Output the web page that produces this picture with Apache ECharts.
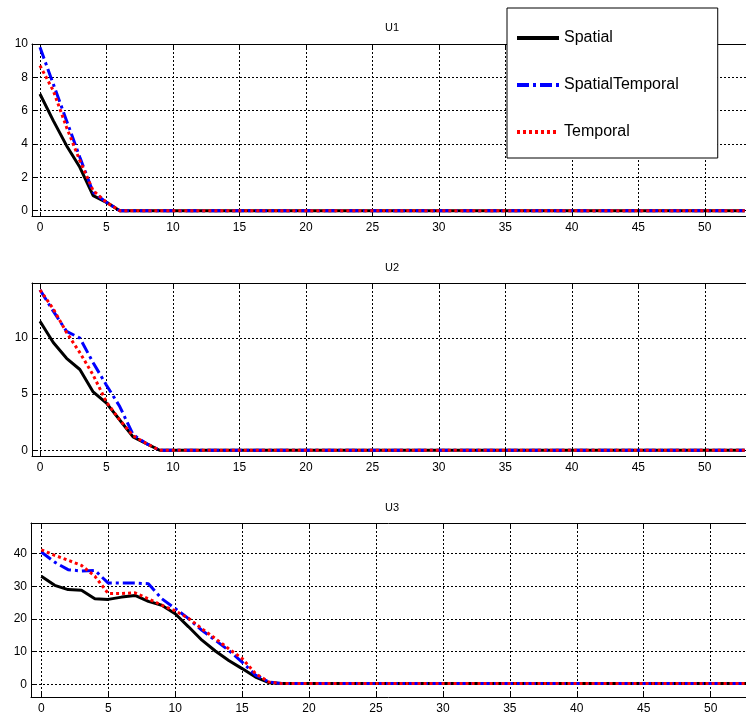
<!DOCTYPE html>
<html>
<head>
<meta charset="utf-8">
<script src="https://cdn.jsdelivr.net/npm/echarts@6/dist/echarts.min.js"></script>
<style>html,body{margin:0;padding:0;background:#fff}#c{width:746px;height:715px}</style>
</head>
<body>
<div id="c"></div>
<script>
const seriesNames = ['Spatial', 'SpatialTemporal', 'Temporal'];
const panelTitles = ['U1', 'U2', 'U3'];

const u1Spatial = [7,5.4,3.9,2.6,0.9,0.5,0,
  0,0,0,0,0,0,0,0,0,0, 0,0,0,0,0,0,0,0,0,0, 0,0,0,0,0,0,0,0,0,0, 0,0,0,0,0,0,0,0,0,0, 0,0,0,0,0,0,0];
const u1SpatialTemporal = [9.8,7.6,5.4,3.2,1.1,0.5,0,
  0,0,0,0,0,0,0,0,0,0, 0,0,0,0,0,0,0,0,0,0, 0,0,0,0,0,0,0,0,0,0, 0,0,0,0,0,0,0,0,0,0, 0,0,0,0,0,0,0];
const u1Temporal = [8.7,7.2,5.0,3.0,1.2,0.5,0,
  0,0,0,0,0,0,0,0,0,0, 0,0,0,0,0,0,0,0,0,0, 0,0,0,0,0,0,0,0,0,0, 0,0,0,0,0,0,0,0,0,0, 0,0,0,0,0,0,0];

const u2Spatial = [11.5,9.6,8.2,7.2,5.2,4.2,2.7,1.2,0.6,0,
  0,0,0,0,0,0,0,0,0,0, 0,0,0,0,0,0,0,0,0,0, 0,0,0,0,0,0,0,0,0,0, 0,0,0,0,0,0,0,0,0,0, 0,0,0,0];
const u2SpatialTemporal = [14.3,12.4,10.6,10.0,7.8,5.8,3.9,1.4,0.6,0,
  0,0,0,0,0,0,0,0,0,0, 0,0,0,0,0,0,0,0,0,0, 0,0,0,0,0,0,0,0,0,0, 0,0,0,0,0,0,0,0,0,0, 0,0,0,0];
const u2Temporal = [14.3,12.6,10.5,8.7,6.7,4.3,2.7,1.3,0.6,0,
  0,0,0,0,0,0,0,0,0,0, 0,0,0,0,0,0,0,0,0,0, 0,0,0,0,0,0,0,0,0,0, 0,0,0,0,0,0,0,0,0,0, 0,0,0,0];

const u3Spatial = [33.1,30.3,29.0,28.8,26.2,26.0,26.7,27.2,25.4,24.2,21.6,17.6,13.5,10.2,7.3,4.8,2.2,0.5,0.2,
  0.2,0.2,0.2,0.2,0.2,0.2,0.2,0.2,0.2,0.2, 0.2,0.2,0.2,0.2,0.2,0.2,0.2,0.2,0.2,0.2, 0.2,0.2,0.2,0.2,0.2,0.2,0.2,0.2,0.2,0.2, 0.2,0.2,0.2,0.2,0.2];
const u3SpatialTemporal = [40.5,37.4,35.1,34.7,34.9,31.0,31.0,31.0,30.8,26.2,23.2,20.1,16.5,13.5,10.4,6.8,2.8,0.7,0.2,
  0.2,0.2,0.2,0.2,0.2,0.2,0.2,0.2,0.2,0.2, 0.2,0.2,0.2,0.2,0.2,0.2,0.2,0.2,0.2,0.2, 0.2,0.2,0.2,0.2,0.2,0.2,0.2,0.2,0.2,0.2, 0.2,0.2,0.2,0.2,0.2];
const u3Temporal = [41.2,39.5,38.0,36.4,33.1,27.8,27.8,28.0,26.2,24.2,22.5,20.2,17.0,14.0,10.9,7.9,3.3,0.7,0.2,
  0.2,0.2,0.2,0.2,0.2,0.2,0.2,0.2,0.2,0.2, 0.2,0.2,0.2,0.2,0.2,0.2,0.2,0.2,0.2,0.2, 0.2,0.2,0.2,0.2,0.2,0.2,0.2,0.2,0.2,0.2, 0.2,0.2,0.2,0.2,0.2];

const panelData = [
  [u1Spatial, u1SpatialTemporal, u1Temporal],
  [u2Spatial, u2SpatialTemporal, u2Temporal],
  [u3Spatial, u3SpatialTemporal, u3Temporal]
];

// tick labels
const xTicks = [0, 5, 10, 15, 20, 25, 30, 35, 40, 45, 50];
const u1YTicks = [0, 2, 4, 6, 8, 10];
const u2YTicks = [0, 5, 10];
const u3YTicks = [0, 10, 20, 30, 40];
const yTicks = [u1YTicks, u2YTicks, u3YTicks];

// layout (pixels) and axis extents
const grids = [
  {left: 32, top: 44, width: 716, height: 172},
  {left: 32, top: 283, width: 716, height: 173},
  {left: 31, top: 523, width: 717, height: 174}
];
const xExtents = [[-0.6, 53.1], [-0.6, 53.1], [-0.77, 52.64]];
const yExtents = [[-0.32, 10], [-0.51, 14.91], [-3.9, 49.4]];
const titleLeft = [385, 385, 385];
const titleTop = [22, 262, 502];

const FONT = '"Liberation Sans", Arial, Helvetica, sans-serif';
const styles = [
  {color: '#000000', type: 'solid', width: 3},
  {color: '#0000ff', type: [12, 4, 3, 4], width: 3},
  {color: '#ff0000', type: [3, 3], width: 3}
];

const option = {
  animation: false,
  backgroundColor: '#ffffff',
  title: panelTitles.map((t, i) => ({
    text: t, left: titleLeft[i], top: titleTop[i], padding: 0,
    textStyle: {fontSize: 11, fontWeight: 'normal', color: '#000', fontFamily: FONT}
  })),
  legend: {
    data: seriesNames,
    orient: 'vertical',
    left: 507, top: 8,
    padding: [22, 39, 18, 8],
    itemWidth: 42, itemHeight: 14, itemGap: 31,
    backgroundColor: '#ffffff',
    borderColor: '#000000', borderWidth: 1,
    itemStyle: {color: 'rgba(0,0,0,0)', borderWidth: 0, opacity: 0},
    lineStyle: {width: 4},
    textStyle: {fontSize: 16, color: '#000', fontFamily: FONT},
    z: 10
  },
  grid: grids.map(g => Object.assign({containLabel: false}, g)),
  xAxis: [],
  yAxis: [],
  series: []
};

for (let p = 0; p < 3; p++) {
  const [xmin, xmax] = xExtents[p];
  const [ymin, ymax] = yExtents[p];
  option.xAxis.push({
    type: 'value', gridIndex: p, position: 'bottom', min: xmin, max: xmax,
    axisLine: {show: true, onZero: false, lineStyle: {color: '#000', width: 1}},
    axisTick: {show: true, inside: true, length: 4, customValues: xTicks, lineStyle: {color: '#000'}},
    axisLabel: {color: '#000', fontSize: 12, fontFamily: FONT, margin: 6, customValues: xTicks},
    splitLine: {show: true, lineStyle: {color: '#000', width: 1, type: [2, 2]}}
  });
  option.xAxis.push({
    type: 'value', gridIndex: p, position: 'top', min: xmin, max: xmax,
    axisLine: {show: true, onZero: false, lineStyle: {color: '#000', width: 1}},
    axisTick: {show: true, inside: true, length: 4, customValues: xTicks, lineStyle: {color: '#000'}},
    axisLabel: {show: false},
    splitLine: {show: false}
  });
  option.yAxis.push({
    type: 'value', gridIndex: p, min: ymin, max: ymax,
    axisLine: {show: true, onZero: false, lineStyle: {color: '#000', width: 1}},
    axisTick: {show: true, inside: true, length: 4, customValues: yTicks[p], lineStyle: {color: '#000'}},
    axisLabel: {color: '#000', fontSize: 12, fontFamily: FONT, margin: 4, customValues: yTicks[p]},
    splitLine: {show: true, lineStyle: {color: '#000', width: 1, type: [2, 2]}}
  });
  for (let s = 0; s < 3; s++) {
    option.series.push({
      type: 'line', name: seriesNames[s], xAxisIndex: p * 2, yAxisIndex: p,
      data: panelData[p][s].map((v, i) => [i, v]),
      symbol: 'none', showSymbol: false, clip: true,
      lineStyle: styles[s], itemStyle: {color: styles[s].color},
      z: 2 + s
    });
  }
}

const chart = echarts.init(document.getElementById('c'), null, {renderer: 'canvas'});
chart.setOption(option);
</script>
</body>
</html>
